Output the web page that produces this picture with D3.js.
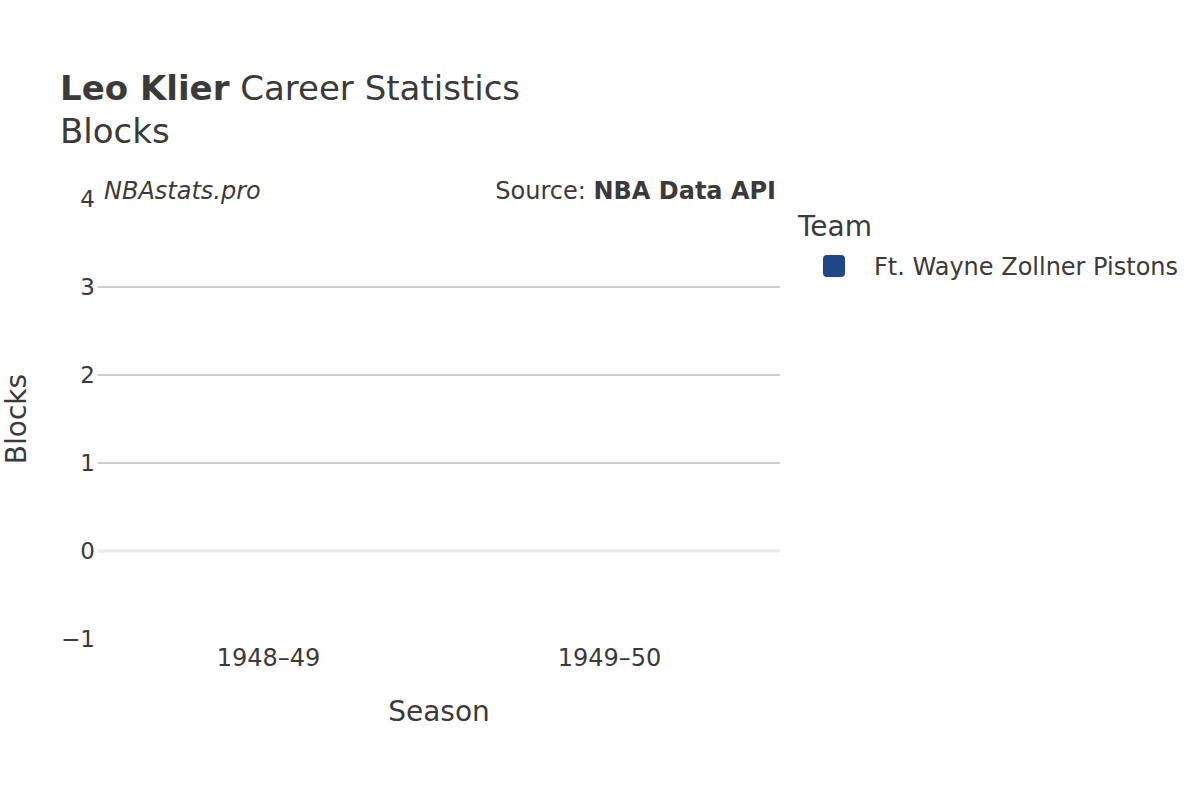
<!DOCTYPE html>
<html>
<head>
<meta charset="utf-8">
<script src="https://cdn.jsdelivr.net/npm/d3@7"></script>
<style>
  body { margin: 0; background: #fff; }
  text { font-family: "DejaVu Sans", sans-serif; fill: #3a3a3a; }
</style>
</head>
<body>
<svg id="drawspace" width="1200" height="800"></svg>
<script>
let drawSpace = d3.select("#drawspace");

// data
let seasons = ["1948–49", "1949–50"];
let blocks = [0, 0];
let teams = ["Ft. Wayne Zollner Pistons"];
let teamColors = ["#1f4788"];
let yTicks = [-1, 0, 1, 2, 3, 4];

let plotL = 98, plotR = 780, plotT = 199, plotB = 639;

let xScale = d3.scalePoint().domain(seasons).range([plotL, plotR]).padding(0.5);
let barW = xScale.step() * 0.8;
let yScale = d3.scaleLinear().domain([-1, 4]).range([plotB, plotT]);

// grid lines
drawSpace.append("g")
  .selectAll("line")
  .data(yTicks.filter(d => d > 0 && d < 4))
  .enter()
  .append("line")
  .attr("x1", plotL).attr("x2", plotR)
  .attr("y1", d => yScale(d)).attr("y2", d => yScale(d))
  .attr("stroke", "#bdbdbd")
  .attr("stroke-width", 1.5);

// zero line
drawSpace.append("line")
  .attr("x1", plotL).attr("x2", plotR)
  .attr("y1", yScale(0)).attr("y2", yScale(0))
  .attr("stroke", "#ececec")
  .attr("stroke-width", 3.5);

// bars (all zero height)
drawSpace.append("g")
  .selectAll("rect")
  .data(seasons)
  .enter()
  .append("rect")
  .attr("x", d => xScale(d) - barW / 2)
  .attr("width", barW)
  .attr("y", (d, i) => yScale(Math.max(0, blocks[i])))
  .attr("height", (d, i) => Math.abs(yScale(blocks[i]) - yScale(0)))
  .attr("fill", teamColors[0]);

// y tick labels
drawSpace.append("g")
  .selectAll("text")
  .data(yTicks)
  .enter()
  .append("text")
  .attr("x", plotL - 3)
  .attr("y", d => yScale(d) + 8)
  .attr("text-anchor", "end")
  .style("font-size", "23px")
  .text(d => d < 0 ? "\u2212" + Math.abs(d) : d);

// x tick labels
drawSpace.append("g")
  .selectAll("text")
  .data(seasons)
  .enter()
  .append("text")
  .attr("x", d => xScale(d))
  .attr("y", 666)
  .attr("text-anchor", "middle")
  .style("font-size", "24px")
  .text(d => d);

// axis titles
drawSpace.append("text")
  .attr("x", (plotL + plotR) / 2)
  .attr("y", 721)
  .attr("text-anchor", "middle")
  .style("font-size", "28px")
  .text("Season");

drawSpace.append("text")
  .attr("transform", "translate(26," + ((plotT + plotB) / 2) + ") rotate(-90)")
  .attr("text-anchor", "middle")
  .style("font-size", "28px")
  .text("Blocks");

// title
let title = drawSpace.append("text")
  .attr("x", 60)
  .attr("y", 100)
  .style("font-size", "34px");
title.append("tspan").style("font-weight", "bold").text("Leo Klier");
title.append("tspan").text(" Career Statistics");

drawSpace.append("text")
  .attr("x", 60)
  .attr("y", 143)
  .style("font-size", "34px")
  .text("Blocks");

// watermark and source
drawSpace.append("text")
  .attr("x", 104)
  .attr("y", 199)
  .style("font-size", "24px")
  .style("font-style", "italic")
  .text("NBAstats.pro");

let src = drawSpace.append("text")
  .attr("x", 776)
  .attr("y", 199)
  .attr("text-anchor", "end")
  .style("font-size", "24px");
src.append("tspan").text("Source: ");
src.append("tspan").style("font-weight", "bold").text("NBA Data API");

// legend
drawSpace.append("text")
  .attr("x", 798)
  .attr("y", 236)
  .style("font-size", "28px")
  .text("Team");

let legendItem = drawSpace.append("g")
  .selectAll("g")
  .data(teams)
  .enter()
  .append("g")
  .attr("transform", (d, i) => "translate(0," + (266 + i * 40) + ")");

legendItem.append("rect")
  .attr("x", 823).attr("y", -11)
  .attr("width", 22).attr("height", 22)
  .attr("rx", 4)
  .attr("fill", (d, i) => teamColors[i]);

legendItem.append("text")
  .attr("x", 874)
  .attr("y", 9)
  .style("font-size", "24px")
  .text(d => d);
</script>
</body>
</html>
